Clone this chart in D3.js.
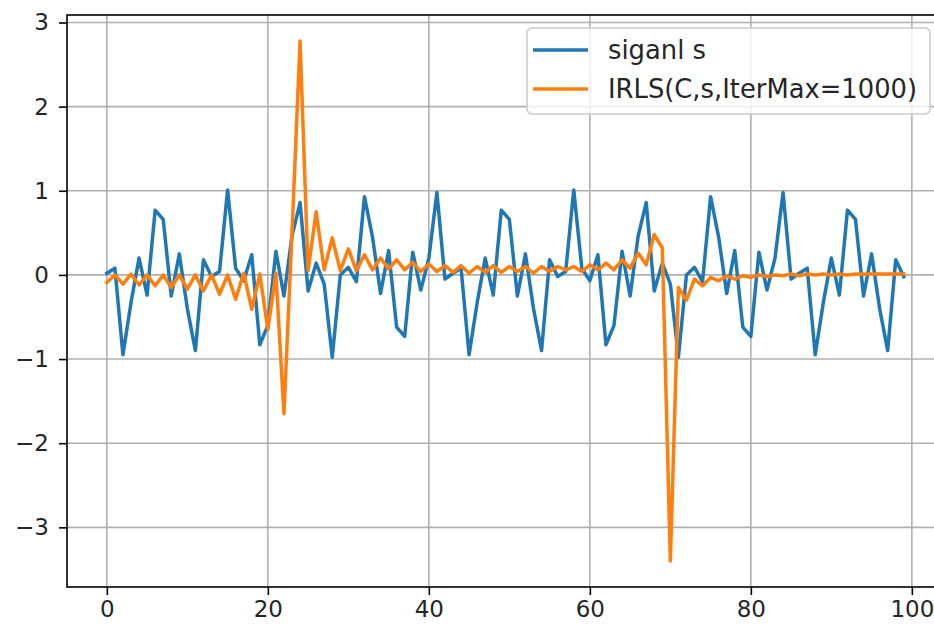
<!DOCTYPE html>
<html>
<head>
    <script type="text/javascript" src="https://d3js.org/d3.v7.min.js"></script>
    <style>
        body { margin: 0; background: #ffffff; }
        text { font-family: "DejaVu Sans", sans-serif; }
    </style>
</head>

<body>
    <svg width="934" height="628"></svg>

    <script>
        // sample index on the x axis
        const sampleIdx = d3.range(0, 100);

        // siganl s
        const signalS = [
            0.02, 0.08, -0.95, -0.33, 0.2, -0.24, 0.77, 0.66, -0.25, 0.25,
            -0.4, -0.9, 0.18, -0.02, 0.04, 1.01, 0.08, -0.07, 0.24, -0.83,
            -0.6, 0.28, -0.25, 0.46, 0.86, -0.19, 0.14, -0.11, -0.98, 0.0,
            0.09, -0.08, 0.93, 0.45, -0.22, 0.29, -0.62, -0.73, 0.27, -0.18,
            0.2, 0.98, -0.05, 0.02, 0.08, -0.95, -0.33, 0.2, -0.24, 0.77,
            0.66, -0.25, 0.25, -0.4, -0.9, 0.18, -0.02, 0.04, 1.01, 0.08,
            -0.07, 0.24, -0.83, -0.6, 0.28, -0.25, 0.46, 0.86, -0.19, 0.14,
            -0.11, -0.98, 0.0, 0.09, -0.08, 0.93, 0.45, -0.22, 0.29, -0.62,
            -0.73, 0.27, -0.18, 0.2, 0.98, -0.05, 0.02, 0.08, -0.95, -0.33,
            0.2, -0.24, 0.77, 0.66, -0.25, 0.25, -0.4, -0.9, 0.18, -0.02
        ];

        // IRLS(C,s,IterMax=1000) result
        const irls = [
            -0.09, 0.0, -0.11, 0.01, -0.12, 0.0, -0.13, 0.0, -0.15, 0.0,
            -0.17, 0.0, -0.19, 0.0, -0.23, 0.0, -0.29, 0.02, -0.41, 0.01,
            -0.65, 0.02, -1.65, 0.5, 2.78, 0.05, 0.75, 0.06, 0.44, 0.05,
            0.31, 0.05, 0.24, 0.06, 0.2, 0.07, 0.18, 0.06, 0.15, 0.04,
            0.13, 0.04, 0.11, 0.03, 0.11, 0.02, 0.1, 0.03, 0.11, 0.03,
            0.1, 0.04, 0.1, 0.02, 0.1, 0.04, 0.1, 0.06, 0.1, 0.04,
            0.12, 0.06, 0.14, 0.06, 0.18, 0.08, 0.26, 0.12, 0.48, 0.32,
            -3.4, -0.15, -0.3, -0.05, -0.13, -0.03, -0.07, -0.01, -0.05, -0.01,
            -0.03, 0.0, -0.02, 0.0, -0.01, 0.01, -0.01, 0.01, 0.0, 0.01,
            0.0, 0.01, 0.0, 0.01, 0.01, 0.01, 0.01, 0.01, 0.01, 0.01
        ];

        const xTicks = [0, 20, 40, 60, 80, 100];
        const yTicks = [-3, -2, -1, 0, 1, 2, 3];
        const seriesNames = ["siganl s", "IRLS(C,s,IterMax=1000)"];
        const seriesColors = ["#1f77b4", "#ff7f0e"];

        // plot area (right edge falls outside the picture, like the original)
        const plotLeft = 67, plotTop = 15, plotBottom = 587;
        const pxPerX = 8.05;

        // matplotlib style 5% margins
        const xMin = d3.min(sampleIdx), xMax = d3.max(sampleIdx);
        const xPad = (xMax - xMin) * 0.05;
        const allY = signalS.concat(irls);
        const yMin = d3.min(allY), yMax = d3.max(allY);
        const yPad = (yMax - yMin) * 0.05;

        const x = d3.scaleLinear()
            .domain([xMin - xPad, xMax + xPad])
            .range([plotLeft, plotLeft + (xMax - xMin + 2 * xPad) * pxPerX]);
        const y = d3.scaleLinear()
            .domain([yMin - yPad, yMax + yPad])
            .range([plotBottom, plotTop]);

        const plotRight = x.range()[1];
        const svg = d3.select("svg");

        // grid
        const grid = svg.append("g");
        grid.selectAll("line.gx")
            .data(xTicks)
            .enter()
            .append("line")
            .attr("x1", d => x(d)).attr("x2", d => x(d))
            .attr("y1", plotTop).attr("y2", plotBottom)
            .attr("stroke", "#b0b0b0")
            .attr("stroke-width", 1.6);
        grid.selectAll("line.gy")
            .data(yTicks)
            .enter()
            .append("line")
            .attr("x1", plotLeft).attr("x2", plotRight)
            .attr("y1", d => y(d)).attr("y2", d => y(d))
            .attr("stroke", "#b0b0b0")
            .attr("stroke-width", 1.6);

        // the two series
        const line = d3.line()
            .x((d, i) => x(sampleIdx[i]))
            .y(d => y(d));

        [signalS, irls].forEach((s, k) => {
            svg.append("path")
                .datum(s)
                .attr("d", line)
                .attr("fill", "none")
                .attr("stroke", seriesColors[k])
                .attr("stroke-width", 3.5)
                .attr("stroke-linejoin", "round")
                .attr("stroke-linecap", "square");
        });

        // axes
        const xAxis = d3.axisBottom(x)
            .tickValues(xTicks)
            .tickSize(8)
            .tickPadding(6);
        const yAxis = d3.axisLeft(y)
            .tickValues(yTicks)
            .tickSize(8)
            .tickPadding(10)
            .tickFormat(d => d < 0 ? "\u2212" + Math.abs(d) : d);

        const gx = svg.append("g")
            .attr("transform", `translate(0, ${plotBottom})`)
            .call(xAxis);
        const gy = svg.append("g")
            .attr("transform", `translate(${plotLeft}, 0)`)
            .call(yAxis);

        [gx, gy].forEach(g => {
            g.select(".domain").remove();
            g.selectAll(".tick line").attr("stroke", "#000").attr("stroke-width", 1.6);
            g.selectAll(".tick text")
                .attr("fill", "#262626")
                .style("font-size", "23px")
                .style("font-family", "DejaVu Sans");
        });

        // spines
        svg.append("rect")
            .attr("x", plotLeft).attr("y", plotTop)
            .attr("width", plotRight - plotLeft).attr("height", plotBottom - plotTop)
            .attr("fill", "none")
            .attr("stroke", "#000")
            .attr("stroke-width", 1.6);

        // legend
        const legend = svg.append("g").attr("transform", "translate(527, 28)");
        legend.append("rect")
            .attr("width", 403).attr("height", 86)
            .attr("rx", 5)
            .attr("fill", "#ffffff").attr("fill-opacity", 0.8)
            .attr("stroke", "#cccccc").attr("stroke-width", 1.6);

        seriesNames.forEach((name, k) => {
            const ly = 22 + k * 39;
            legend.append("line")
                .attr("x1", 6).attr("x2", 61)
                .attr("y1", ly).attr("y2", ly)
                .attr("stroke", seriesColors[k])
                .attr("stroke-width", 3.5);
            legend.append("text")
                .attr("x", 81).attr("y", ly)
                .attr("dy", "0.36em")
                .attr("fill", "#262626")
                .style("font-size", "25.8px")
                .text(name);
        });
    </script>
</body>
</html>
